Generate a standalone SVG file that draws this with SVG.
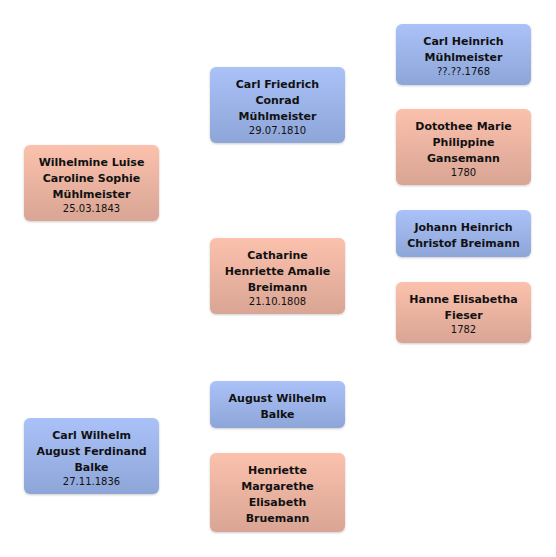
<svg xmlns="http://www.w3.org/2000/svg" width="556" height="557" viewBox="0 0 556 557">
<defs>
<linearGradient id="gb" x1="0" y1="0" x2="0" y2="1"><stop offset="0" stop-color="#aac2f8"/><stop offset="1" stop-color="#8ea5d8"/></linearGradient>
<linearGradient id="gp" x1="0" y1="0" x2="0" y2="1"><stop offset="0" stop-color="#fbc1ad"/><stop offset="1" stop-color="#d9a594"/></linearGradient>
<filter id="sh" x="-10%" y="-10%" width="120%" height="130%"><feDropShadow dx="0" dy="1" stdDeviation="1" flood-color="#000" flood-opacity="0.2"/></filter>
</defs>
<style>
rect{filter:url(#sh)}
.m{fill:url(#gb)}
.f{fill:url(#gp)}
text{font-family:"DejaVu Sans","Liberation Sans",sans-serif;font-size:11px;text-anchor:middle;fill:#111}
.n{font-weight:bold}
.d{font-size:10px;font-weight:normal}
</style>
<rect width="556" height="557" fill="#fff" style="filter:none"/>
<g id="connectors"/>
<g id="n1"><rect class="f" x="24" y="145" width="135" height="76" rx="6"/>
<text x="91.5" y="166" class="n">Wilhelmine Luise</text><text x="91.5" y="182" class="n">Caroline Sophie</text><text x="91.5" y="198" class="n">Mühlmeister</text><text x="91.5" y="212" class="d">25.03.1843</text></g>
<g id="n2"><rect class="m" x="24" y="418" width="135" height="76" rx="6"/>
<text x="91.5" y="439" class="n">Carl Wilhelm</text><text x="91.5" y="455" class="n">August Ferdinand</text><text x="91.5" y="471" class="n">Balke</text><text x="91.5" y="485" class="d">27.11.1836</text></g>
<g id="n3"><rect class="m" x="210" y="67" width="135" height="76" rx="6"/>
<text x="277.5" y="88" class="n">Carl Friedrich</text><text x="277.5" y="104" class="n">Conrad</text><text x="277.5" y="120" class="n">Mühlmeister</text><text x="277.5" y="134" class="d">29.07.1810</text></g>
<g id="n4"><rect class="f" x="210" y="238" width="135" height="76" rx="6"/>
<text x="277.5" y="259" class="n">Catharine</text><text x="277.5" y="275" class="n">Henriette Amalie</text><text x="277.5" y="291" class="n">Breimann</text><text x="277.5" y="305" class="d">21.10.1808</text></g>
<g id="n5"><rect class="m" x="210" y="381" width="135" height="47" rx="6"/>
<text x="277.5" y="402" class="n">August Wilhelm</text><text x="277.5" y="418" class="n">Balke</text></g>
<g id="n6"><rect class="f" x="210" y="453" width="135" height="79" rx="6"/>
<text x="277.5" y="474" class="n">Henriette</text><text x="277.5" y="490" class="n">Margarethe</text><text x="277.5" y="506" class="n">Elisabeth</text><text x="277.5" y="522" class="n">Bruemann</text></g>
<g id="n7"><rect class="m" x="396" y="24" width="135" height="61" rx="6"/>
<text x="463.5" y="45" class="n">Carl Heinrich</text><text x="463.5" y="61" class="n">Mühlmeister</text><text x="463.5" y="75" class="d">??.??.1768</text></g>
<g id="n8"><rect class="f" x="396" y="109" width="135" height="76" rx="6"/>
<text x="463.5" y="130" class="n">Dotothee Marie</text><text x="463.5" y="146" class="n">Philippine</text><text x="463.5" y="162" class="n">Gansemann</text><text x="463.5" y="176" class="d">1780</text></g>
<g id="n9"><rect class="m" x="396" y="210" width="135" height="47" rx="6"/>
<text x="463.5" y="231" class="n">Johann Heinrich</text><text x="463.5" y="247" class="n">Christof Breimann</text></g>
<g id="n10"><rect class="f" x="396" y="282" width="135" height="61" rx="6"/>
<text x="463.5" y="303" class="n">Hanne Elisabetha</text><text x="463.5" y="319" class="n">Fieser</text><text x="463.5" y="333" class="d">1782</text></g>
</svg>
